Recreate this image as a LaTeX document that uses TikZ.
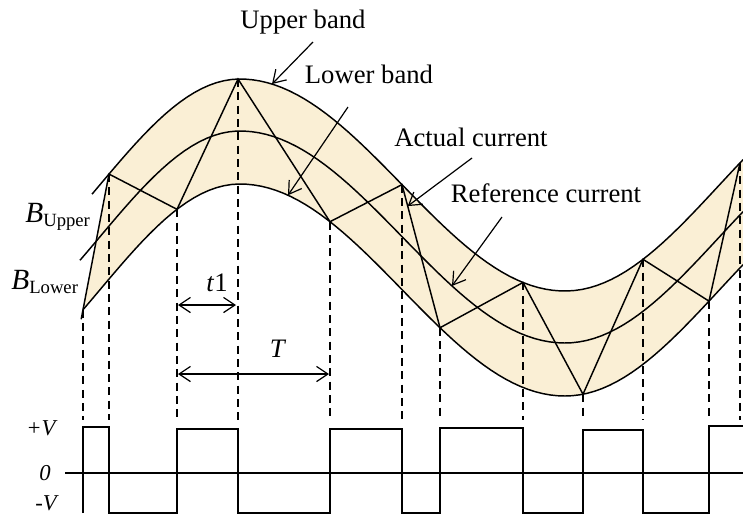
\documentclass[tikz,border=0pt]{standalone}
\usepackage{fontspec}
\setmainfont{Liberation Serif}
\usetikzlibrary{arrows.meta, calc}

\definecolor{bandfill}{HTML}{FAEFD5}

\begin{document}
\begin{tikzpicture}[
    x=0.75pt, y=-0.75pt,
    declare function={
        ph(\x)=(\x<240)*(\x-240)*0.0112
              +(\x>=240)*(\x<565)*(\x-240)*0.00967
              +(\x>=565)*(pi+(\x-565)*0.01017);
        mid(\x)=237-106*cos(deg(ph(\x)));
        upp(\x)=mid(\x)-52;
        low(\x)=mid(\x)+53;
    },
    curve/.style={line width=1.1pt},
    guide/.style={line width=1pt, dash pattern=on 6pt off 4pt},
    pointer/.style={-{Straight Barb[length=3.2mm, width=4mm]}, line width=0.9pt},
    span/.style={{Straight Barb[length=3mm, width=4mm]}-{Straight Barb[length=3mm, width=4mm]}, line width=0.9pt},
    lbl/.style={font=\fontsize{20}{24}\selectfont, inner sep=0pt},
    lvl/.style={font=\fontsize{17}{20}\selectfont\itshape, inner sep=0pt}
]
\useasboundingbox (0,0) rectangle (743,515);

% band between the two limits
\fill[bandfill] plot[domain=83:743, samples=90] (\x,{low(\x)})
    -- plot[domain=743:109, samples=90] (\x,{upp(\x)}) -- cycle;

% switching points (x / which limit)
\foreach \px/\lim [count=\i] in {83/low, 109/upp, 177/low, 238/upp, 330/low, 402/upp,
                                 440/low, 523/upp, 583/low, 643/upp, 709/low, 740/upp}
    \coordinate (v\i) at (\px,{\lim(\px)});

% dashed drop lines
\foreach \i in {1,...,12}
    \draw[guide] (v\i) -- (v\i |- 0,420);

% limits and reference
\draw[curve] plot[domain=92:743, samples=90] (\x,{upp(\x)});
\draw[curve] plot[domain=80:743, samples=90] (\x,{mid(\x)});
\draw[curve] plot[domain=83:743, samples=90] (\x,{low(\x)});

% actual current
\coordinate (start) at ($(v1)!-0.07!(v2)$);
\draw[curve] (start) -- (v1) -- (v2) -- (v3) -- (v4) -- (v5) -- (v6) -- (v7)
    -- (v8) -- (v9) -- (v10) -- (v11) -- (v12);

% labels
\node[lbl] (upper) at (303,22) {Upper band};
\node[lbl] (lower) at (369,74) {Lower band};
\node[lbl] (actual) at (471,137) {Actual current};
\node[lbl] (refer) at (546,193) {Reference current};
\node[lbl] (bup) at (58,217) {{\fontsize{22}{24}\selectfont\textit{B}}\textsubscript{Upper}};
\node[lbl] (blo) at (45,282) {{\fontsize{22}{24}\selectfont\textit{B}}\textsubscript{Lower}};

\coordinate (uptail) at (313,42);
\coordinate (uptip) at (272,{upp(272)});
\coordinate (lotail) at (348,107);
\coordinate (lotip) at (288,{low(288)});
\coordinate (actail) at (472,158);
\coordinate (actip) at ($(v6)!0.15!(v7)$);
\coordinate (retail) at (502,217);
\coordinate (retip) at (452,{mid(452)});
\draw[pointer] (uptail) -- (uptip);
\draw[pointer] (lotail) -- (lotip);
\draw[pointer] (actail) -- (actip);
\draw[pointer] (retail) -- (retip);

% time spans
\node[lbl] (tone) at (217,283) {\textit{t}1};
\node[lbl] (tper) at (278,349) {\textit{T}};
\coordinate (t1a) at (178,305);
\coordinate (t1b) at (236,305);
\coordinate (tpa) at (178,374);
\coordinate (tpb) at (329,374);
\draw[span] (t1a) -- (t1b);
\draw[span] (tpa) -- (tpb);

% switching signal
\node[lvl] (vplus) at (41,428) {+V};
\node[lvl] (vzero) at (45,473) {0};
\node[lvl] (vminus) at (46,503) {-V};
\coordinate (zl) at (65,473);
\coordinate (zr) at (743,473);
\draw[curve] (zl) -- (zr);
\draw[curve] (83,513) -- (83,427) -- (109,427) -- (109,513) -- (177,513) -- (177,429)
    -- (238,429) -- (238,513) -- (330,513) -- (330,429) -- (402,429) -- (402,513)
    -- (440,513) -- (440,428) -- (523,428) -- (523,513) -- (583,513) -- (583,430)
    -- (643,430) -- (643,513) -- (709,513) -- (709,426) -- (743,426);

\end{tikzpicture}
\end{document}
